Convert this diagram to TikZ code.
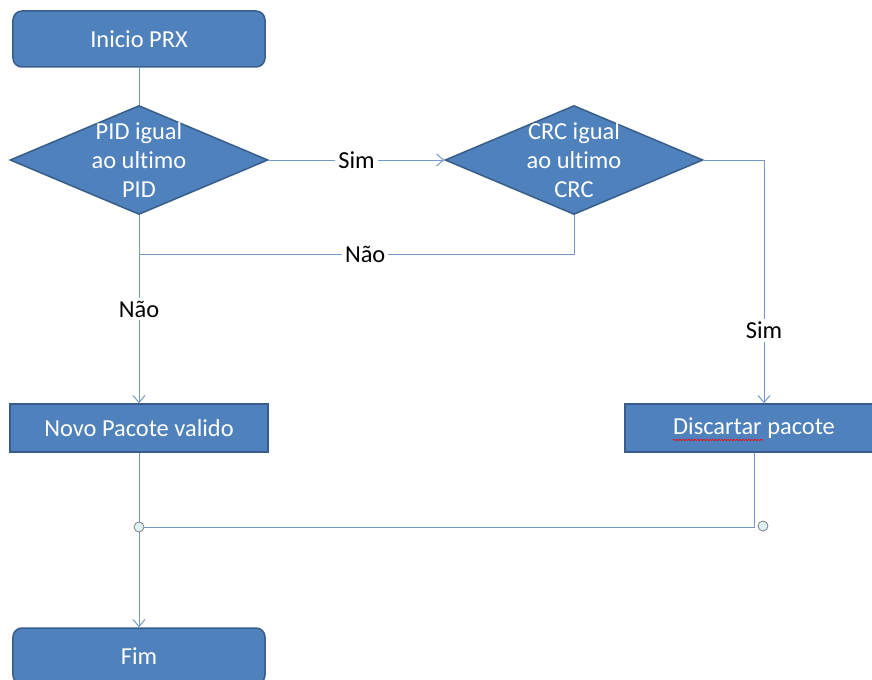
\documentclass[tikz,border=0pt]{standalone}
\usepackage{fontspec}
\setmainfont{Carlito}[RawFeature=-liga]
\usepackage{tikz}
\usetikzlibrary{positioning}
\usetikzlibrary{calc}
\usetikzlibrary{shapes.geometric}
\usetikzlibrary{arrows.meta}
\usetikzlibrary{decorations.pathmorphing}

\definecolor{boxfill}{RGB}{79,129,189}
\definecolor{boxline}{RGB}{56,93,138}
\definecolor{linkcol}{RGB}{116,152,204}
\definecolor{dotfill}{RGB}{222,242,246}

\tikzset{
  chartfont/.style={font=\fontsize{24.5}{29.5}\selectfont},
  terminal/.style={rectangle, rounded corners=9bp, draw=boxline, fill=boxfill, line width=1.5bp,
    minimum width=252bp, minimum height=56bp, text=white, chartfont},
  process/.style={rectangle, draw=boxline, fill=boxfill, line width=1.5bp,
    minimum width=258bp, minimum height=48bp, text=white, chartfont},
  decision/.style={diamond, draw=boxline, fill=boxfill, line width=1.5bp, inner sep=0pt,
    minimum width=258bp, minimum height=109bp},
  inside/.style={text=white, align=center, chartfont},
  link/.style={draw=linkcol, line width=1bp},
  flow/.style={link, -{Straight Barb[length=7bp,width=12bp]}},
  answer/.style={fill=white, text=black, inner sep=3bp, chartfont},
  joint/.style={circle, draw=gray, fill=dotfill, line width=0.8bp, inner sep=0pt, minimum size=10bp}
}

\begin{document}
\begin{tikzpicture}[x=1bp, y=-1bp]
\useasboundingbox (0,0) rectangle (872,680);

\node[terminal] (start) at (139,39) {Inicio PRX};
\node[decision, label={[inside]center:PID igual\\ao ultimo\\PID}] (pid) at (139,160) {};
\node[decision, label={[inside]center:CRC igual\\ao ultimo\\CRC}] (crc) at (574,160) {};
\node[process] (valid) at (139,428) {Novo Pacote valido};
\node[process] (discard) at (754,428) {Discartar pacote};
\node[terminal] (fim) at (139,656) {Fim};

\coordinate (merge) at (139,254);
\coordinate (turn) at (764,160);
\coordinate (joinl) at (139,527);

\draw[link] (start) -- (pid);
\draw[flow] (pid.east) -- node[answer] {Sim} (crc.west);
\draw[link] (crc.south) |- node[answer, pos=0.74] {Não} (merge);
\draw[flow] (pid.south) -- node[answer] {Não} (valid);
\draw[flow] (crc.east) -- (turn) -- node[answer, pos=0.70] {Sim} (turn |- discard.north);
\draw[link] (discard.south) |- (joinl);
\draw[flow] (valid) -- (fim);

\node[joint] at (joinl) {};
\node[joint] (joinr) at (763,526) {};

% spell check mark
\draw[red, line width=0.6bp, decorate, decoration={snake, amplitude=0.8bp, segment length=3bp}]
  ($(discard.center)+(-81,12)$) -- ++(90,0);
\end{tikzpicture}
\end{document}
